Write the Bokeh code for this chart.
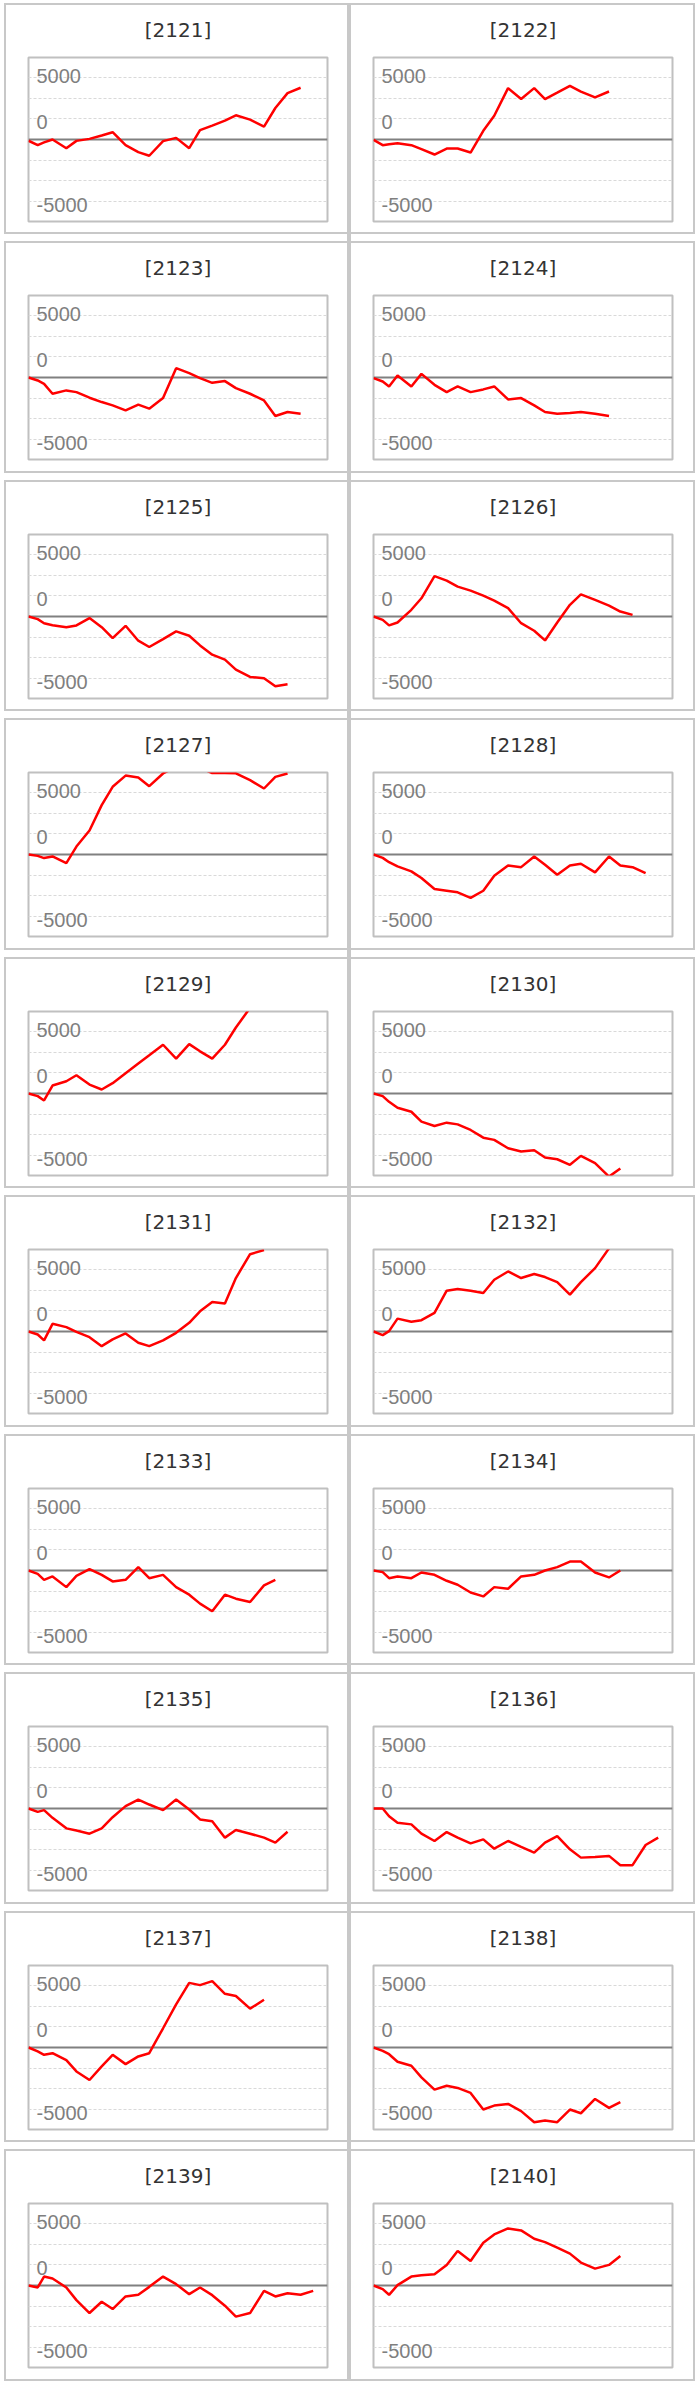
from bokeh.plotting import figure
from bokeh.layouts import row, column
from bokeh.models import Range1d, FixedTicker, Span, Grid
from bokeh.embed import file_html
from bokeh.resources import INLINE
from bokeh.core.properties import value

# ---------------- data ----------------
# x positions of the sampling points (shared by all panels)
X = [0, 0.74, 1.25, 1.93, 3.04, 3.85, 4.90, 5.88, 6.76, 7.80, 8.82, 9.70, 10.81,
     11.86, 12.91, 13.78, 14.76, 15.78, 16.66, 17.80, 18.92, 19.83, 20.81, 21.86, 22.87]

CODES = [2121, 2122, 2123, 2124, 2125, 2126, 2127, 2128, 2129, 2130,
         2131, 2132, 2133, 2134, 2135, 2136, 2137, 2138, 2139, 2140]

S2121 = [-100, -450, -230, 0, -700, -110, 50, 320, 590, -460, -1020, -1310, -130, 130,
         -700, 750, 1120, 1520, 1950, 1600, 1040, 2540, 3740, 4170]
S2122 = [-30, -460, -390, -300, -460, -780, -1210, -730, -730, -1050, 700, 1910, 4140,
         3260, 4140, 3260, 3780, 4330, 3860, 3390, 3870]
S2123 = [0, -240, -510, -1310, -1040, -1180, -1630, -1980, -2250, -2650, -2190, -2510,
         -1660, 750, 350, -50, -430, -290, -860, -1310, -1850, -3100, -2780, -2920]
S2124 = [-50, -320, -720, 160, -720, 290, -590, -1180, -720, -1180, -960, -720, -1770,
         -1660, -2250, -2780, -2920, -2860, -2780, -2920, -3100]
S2125 = [0, -210, -540, -700, -860, -720, -130, -860, -1740, -750, -1950, -2460, -1820,
         -1200, -1550, -2330, -3080, -3480, -4280, -4870, -4970, -5620, -5460]
S2126 = [0, -270, -720, -480, 540, 1470, 3260, 2890, 2410, 2090, 1680, 1280, 670, -540,
         -1150, -1930, -480, 940, 1790, 1340, 880, 400, 130]
S2127 = [0, -110, -290, -160, -700, 640, 1930, 3980, 5460, 6360, 6200, 5510, 6530, 7100,
         7400, 7000, 6560, 6570, 6540, 5990, 5320, 6260, 6530]
S2128 = [0, -270, -620, -960, -1360, -1900, -2780, -2920, -3050, -3500, -2920, -1710,
         -880, -1020, -160, -830, -1630, -880, -750, -1440, -160, -880, -1020, -1500]
S2129 = [0, -210, -560, 640, 990, 1470, 720, 320, 830, 1630, 2410, 3080, 3930, 2810,
         3980, 3400, 2810, 3930, 5320, 6900]
S2130 = [0, -210, -670, -1150, -1470, -2270, -2620, -2350, -2490, -2940, -3560, -3740,
         -4410, -4680, -4570, -5160, -5300, -5750, -5030, -5620, -6700, -6040]
S2131 = [0, -240, -720, 620, 350, -30, -460, -1180, -640, -160, -910, -1180, -720, -110,
         700, 1630, 2380, 2250, 4310, 6230, 6560]
S2132 = [0, -290, 30, 1040, 780, 910, 1500, 3290, 3420, 3290, 3100, 4170, 4840, 4310,
         4630, 4390, 3980, 2970, 3980, 5110, 6700]
S2133 = [0, -270, -750, -480, -1340, -430, 110, -350, -880, -750, 270, -620, -350, -1340,
         -1950, -2670, -3290, -1950, -2270, -2540, -1200, -750]
S2134 = [0, -130, -620, -480, -620, -160, -350, -830, -1150, -1770, -2090, -1340, -1470,
         -480, -350, 0, 270, 720, 720, -160, -560, 0]
S2135 = [0, -270, -130, -750, -1600, -1770, -2030, -1600, -700, 190, 720, 320, -130, 720,
         -80, -880, -1020, -2350, -1740, -2030, -2350, -2750, -1870]
S2136 = [0, 0, -620, -1150, -1280, -2030, -2620, -1900, -2350, -2810, -2490, -3240,
         -2620, -3100, -3560, -2750, -2220, -3290, -3960, -3900, -3820, -4570, -4570,
         -2940, -2350]
S2137 = [0, -320, -590, -460, -1020, -1930, -2620, -1520, -590, -1340, -720, -460, 1550,
         3480, 5210, 5030, 5350, 4330, 4150, 3130, 3850]
S2138 = [0, -270, -540, -1150, -1470, -2410, -3400, -3080, -3260, -3660, -5000, -4680,
         -4550, -5130, -6020, -5880, -6020, -5000, -5300, -4150, -4870, -4410]
S2139 = [0, -160, 720, 560, -160, -1180, -2220, -1310, -1900, -880, -750, -110, 720, 110,
         -700, -160, -780, -1630, -2510, -2220, -430, -880, -620, -750, -430]
S2140 = [0, -290, -750, 30, 720, 830, 910, 1660, 2780, 1980, 3450, 4120, 4600, 4440,
         3770, 3500, 3050, 2570, 1850, 1360, 1660, 2380]

SERIES = [S2121, S2122, S2123, S2124, S2125, S2126, S2127, S2128, S2129, S2130,
          S2131, S2132, S2133, S2134, S2135, S2136, S2137, S2138, S2139, S2140]

TICK_VALUES = [5000, 0, -5000]
TICK_LABELS = ["5000", "0", "-5000"]
GRID_VALUES = [5000, 10000 / 3, 5000 / 3, -5000 / 3, -10000 / 3, -5000]

# ---------------- styling ----------------
X_RANGE = (0, 24.02)
Y_RANGE = (-6610, 6610)
FRAME_W, FRAME_H = 299, 164
TOP = 54
LABEL_DY = {5000: -1, 0: -18, -5000: 3}
BORDER = "#c8c8c8"


def make_panel(code, ys, left_col, extra):
    w = 345 if left_col else 346
    bl = 24
    br = w - bl - FRAME_W
    h = 231 + extra
    p = figure(width=w, height=h,
               x_range=Range1d(*X_RANGE), y_range=Range1d(*Y_RANGE),
               x_axis_location=None, y_axis_location=None,
               toolbar_location=None, output_backend="svg",
               min_border_left=bl, min_border_right=br,
               min_border_top=TOP, min_border_bottom=h - TOP - FRAME_H,
               title="[%d]" % code)
    p.xgrid.grid_line_color = None
    p.ygrid.grid_line_color = None
    p.title.align = "center"
    p.title.vertical_align = "top"
    p.title.text_font = "DejaVu Sans"
    p.title.text_font_size = "20px"
    p.title.text_font_style = "normal"
    p.title.text_color = "#333333"
    p.title.standoff = 27
    p.outline_line_color = "#c0c0c0"
    p.outline_line_width = 2
    p.background_fill_color = "white"
    p.border_fill_alpha = 0
    p.styles = {"background-color": "white",
                "box-shadow": "inset 0 0 0 2px " + BORDER}

    g = Grid(dimension=1, ticker=FixedTicker(ticks=GRID_VALUES),
             grid_line_color="#d9d9d9", grid_line_dash="3 2", grid_line_width=1)
    p.add_layout(g)
    zero = Span(location=0, dimension="width", line_color="#808080", line_width=2,
                level="underlay")
    p.add_layout(zero)

    p.text(x=[X_RANGE[0]] * len(TICK_VALUES), y=TICK_VALUES, text=TICK_LABELS,
           x_offset=8, y_offset=[LABEL_DY[v] for v in TICK_VALUES],
           text_align="left", text_baseline="middle",
           text_font=value("Liberation Sans"), text_font_size="20px",
           text_color="#7f7f7f")
    p.line(X[:len(ys)], ys, line_color="#ff0000", line_width=2.5)
    return p


rows = []
for k, i in enumerate(range(0, len(CODES), 2)):
    extra = k % 2
    left = make_panel(CODES[i], SERIES[i], True, extra)
    right = make_panel(CODES[i + 1], SERIES[i + 1], False, extra)
    rows.append(row(left, right, spacing=0))

layout = column(*rows, spacing=7, margin=(3, 0, 0, 4),
                styles={"background": "linear-gradient(90deg, transparent 343px, " + BORDER +
                                      " 343px, " + BORDER + " 347px, transparent 347px)"})

open("out.html", "w").write(file_html(layout, INLINE))
